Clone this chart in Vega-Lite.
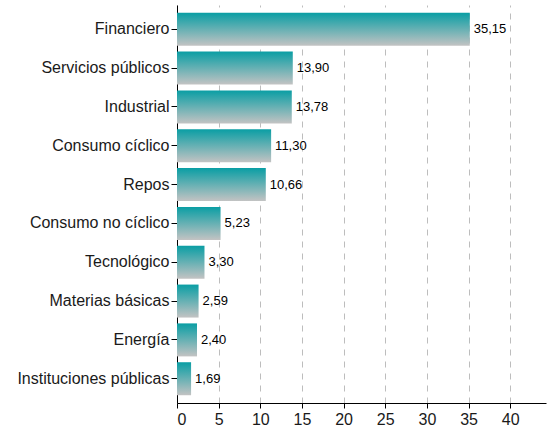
{
  "$schema": "https://vega.github.io/schema/vega-lite/v6.json",
  "autosize": {"type": "none"},
  "width": 369,
  "height": 398,
  "padding": {"left": 177, "top": 5, "right": 7, "bottom": 27},
  "background": "white",
  "config": {
    "view": {"stroke": null},
    "font": "Liberation Sans",
    "locale": {"number": {"decimal": ",", "thousands": ".", "grouping": [3], "currency": ["", " €"]}}
  },
  "data": {
    "values": [
      {"sector": "Financiero", "value": 35.15},
      {"sector": "Servicios públicos", "value": 13.90},
      {"sector": "Industrial", "value": 13.78},
      {"sector": "Consumo cíclico", "value": 11.30},
      {"sector": "Repos", "value": 10.66},
      {"sector": "Consumo no cíclico", "value": 5.23},
      {"sector": "Tecnológico", "value": 3.30},
      {"sector": "Materias básicas", "value": 2.59},
      {"sector": "Energía", "value": 2.40},
      {"sector": "Instituciones públicas", "value": 1.69}
    ]
  },
  "encoding": {
    "y": {
      "field": "sector", "type": "nominal", "sort": null,
      "scale": {"paddingInner": 0.15, "paddingOuter": 0.2},
      "axis": {"title": null, "labelFontSize": 16, "labelColor": "#1a1a1a", "tickSize": 6, "tickColor": "#000", "domainColor": "#000", "labelPadding": 2, "grid": false}
    },
    "x": {
      "field": "value", "type": "quantitative",
      "scale": {"domain": [0, 44.3], "nice": false, "zero": true},
      "axis": {"title": null, "values": [0, 5, 10, 15, 20, 25, 30, 35, 40], "labelFontSize": 16, "labelColor": "#1a1a1a", "tickSize": 5, "tickColor": "#000", "domainColor": "#000", "grid": true, "gridDash": [6, 6], "gridColor": "#bdbdbd", "gridWidth": 1, "labelPadding": 3, "format": "d"}
    }
  },
  "layer": [
    {
      "mark": {
        "type": "bar",
        "fill": {
          "gradient": "linear", "x1": 0, "y1": 0, "x2": 0, "y2": 1,
          "stops": [{"offset": 0, "color": "#0a9ea4"}, {"offset": 1, "color": "#c3c3c3"}]
        }
      }
    },
    {
      "mark": {"type": "text", "align": "left", "baseline": "middle", "dx": 4, "fontSize": 13, "color": "#000"},
      "encoding": {"text": {"field": "value", "type": "quantitative", "format": ".2f"}}
    }
  ]
}
